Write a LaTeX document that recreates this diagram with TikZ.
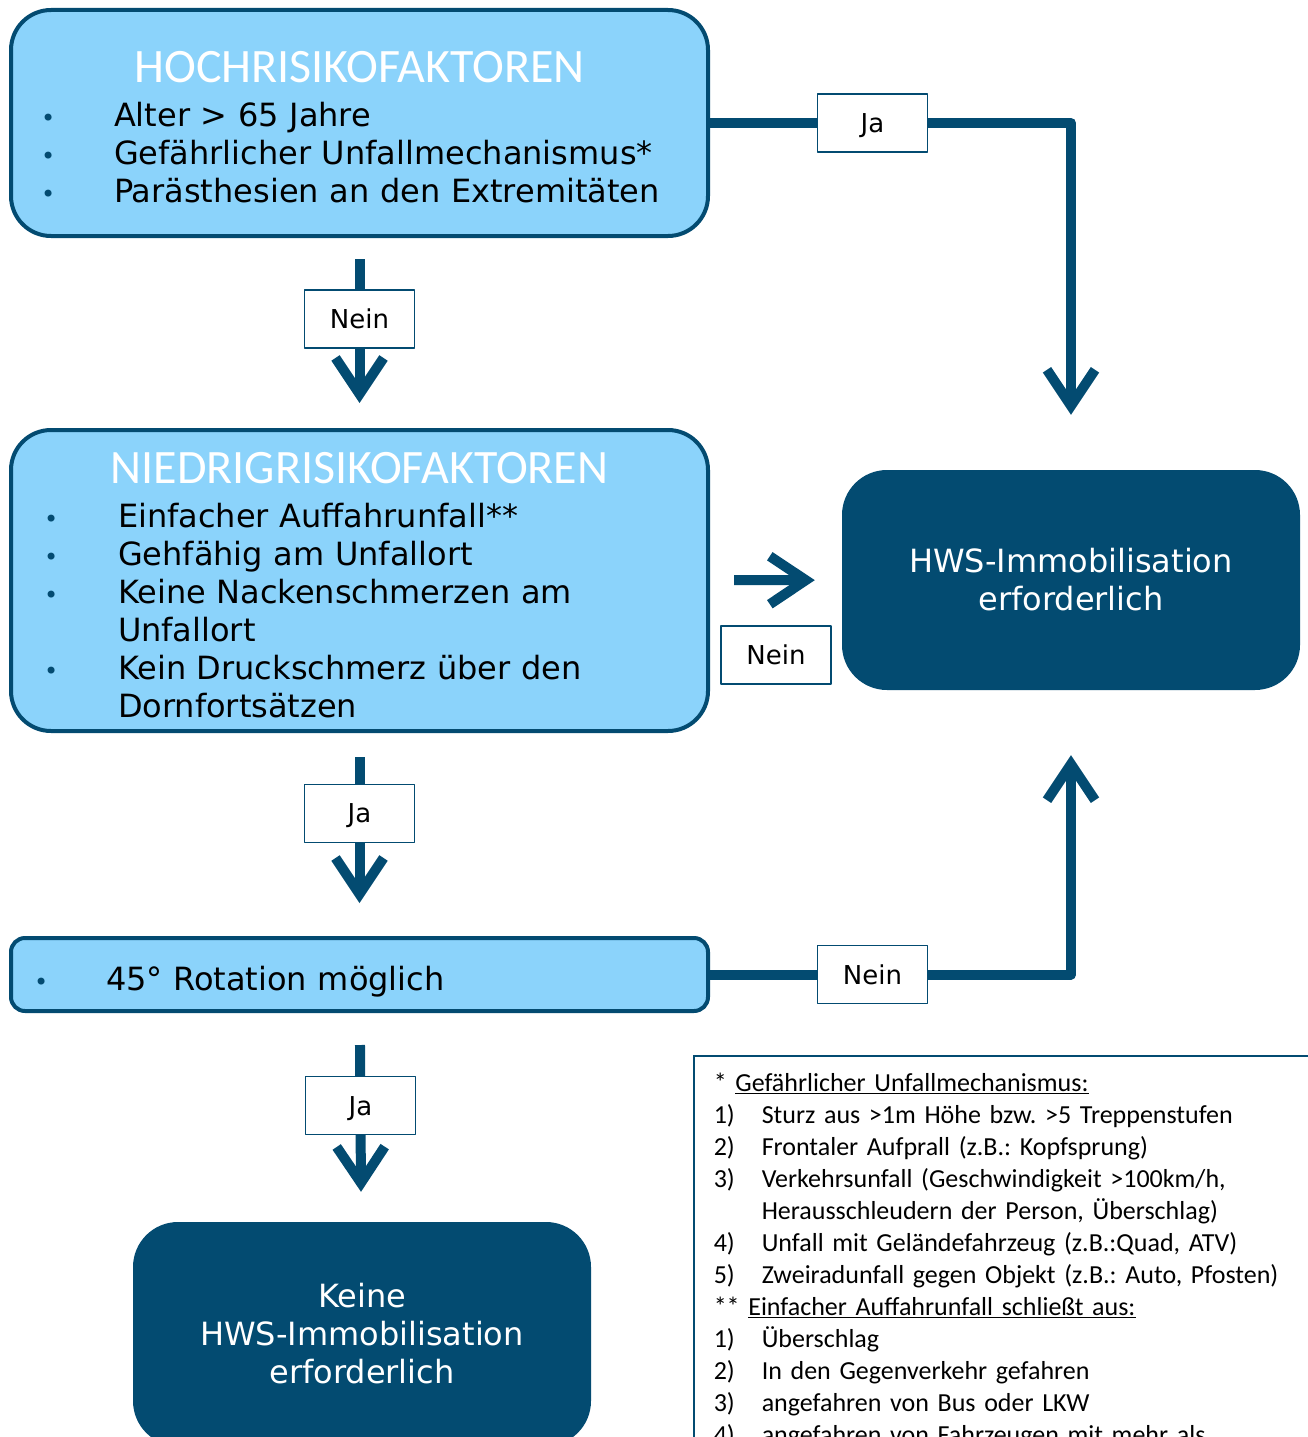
\documentclass[tikz,border=0pt]{standalone}
\usepackage{fontspec}
\setmainfont{DejaVu Sans}
\newfontfamily\headfont{Carlito}
\usetikzlibrary{positioning}
\usetikzlibrary{arrows.meta}
\frenchspacing

\definecolor{darkblue}{RGB}{3,75,113}
\definecolor{lightblue}{RGB}{139,211,251}

% bullet line inside the blue boxes, and its continuation
\newcommand{\bitem}[2][73pt]{\par\noindent\makebox[#1][l]{\textcolor{darkblue}{\fontsize{24}{24}\selectfont\textbullet}}#2}
\newcommand{\bcont}[2][74pt]{\par\noindent\hspace*{#1}#2}
% numbered line in the footnote box
\newcommand{\nitem}[2]{\makebox[48pt][l]{#1}#2}
\newcommand{\boxtitle}[1]{{\centering\headfont\fontsize{48}{50}\selectfont\color{white}\rule{0pt}{40pt}#1\par}\vspace{6pt}}

\tikzset{
  riskbox/.style={draw=darkblue, line width=4pt, fill=lightblue, rounded corners=40pt,
    minimum width=697pt, inner xsep=30pt, text width=637pt, align=left,
    font=\fontsize{32}{38}\selectfont},
  resultbox/.style={fill=darkblue, rounded corners=45pt, text=white, align=center,
    minimum width=458pt, font=\fontsize{32}{38}\selectfont},
  answer/.style={draw=darkblue, line width=1.5pt, fill=white, minimum width=110pt,
    minimum height=58pt, text height=19pt, text depth=0pt, font=\fontsize{26}{30}\selectfont},
  flow/.style={draw=darkblue, line width=10pt, line join=round,
    -{Straight Barb[length=36pt, width=48pt]}},
  notebox/.style={draw=darkblue, line width=1.5pt, inner xsep=20pt, inner ysep=17pt,
    text width=640pt, align=left, font=\headfont\fontsize{26}{32}\selectfont}
}

\begin{document}
\begin{tikzpicture}[x=1pt, y=-1pt]
	\useasboundingbox (0,0) rectangle (1308,1437);

	\node[riskbox, minimum height=226pt] (hoch) at (359.5,123) {%
		\boxtitle{HOCHRISIKOFAKTOREN}
		\bitem{Alter > 65 Jahre}
		\bitem{Gefährlicher Unfallmechanismus*}
		\bitem{Parästhesien an den Extremitäten}};
	\node[riskbox, minimum height=301pt, inner xsep=33pt, text width=631pt] (niedrig) at (359.5,580.5) {%
		\boxtitle{NIEDRIGRISIKOFAKTOREN}
		\bitem[74pt]{Einfacher Auffahrunfall**}
		\bitem[74pt]{Gehfähig am Unfallort}
		\bitem[74pt]{Keine Nackenschmerzen am}
		\bcont{Unfallort}
		\bitem[74pt]{Kein Druckschmerz über den}
		\bcont{Dornfortsätzen}};
	\node[riskbox, minimum height=73pt, rounded corners=14pt, inner xsep=23pt, text width=651pt] (rot) at (359.5,974.5) {%
		\bitem[72pt]{45° Rotation möglich}};

	\node[resultbox, minimum height=220pt] (hws) at (1071,580) {HWS-Immobilisation\\erforderlich};
	\node[resultbox, minimum height=224pt] (keine) at (362,1334) {Keine\\HWS-Immobilisation\\erforderlich};

	\draw[flow, shorten >=55pt] (hoch.east) -| node[answer, pos=0.225] (ja1) {Ja} (hws);
	\draw[flow, shorten <=21pt, shorten >=25pt] (hoch) -- node[answer, pos=0.425] (nein1) {Nein} (niedrig);
	\draw[flow, shorten <=24pt, shorten >=27pt] (niedrig) -- node[answer, midway, below=45pt] (nein2) {Nein} (hws);
	\draw[flow, shorten <=24pt, shorten >=33pt] (niedrig) -- node[answer, pos=0.396] (ja2) {Ja} (rot);
	\draw[flow, shorten >=65pt] (rot.east) -| node[answer, pos=0.225] (nein3) {Nein} (hws);
	\draw[flow, shorten <=32pt, shorten >=30pt] (rot) -- node[answer, pos=0.443] (ja3) {Ja} (keine);

	\node[notebox, anchor=north west] (note) at (693,1055) {%
		* \underline{Gefährlicher Unfallmechanismus:}\\
		\nitem{1)}{Sturz aus >1m Höhe bzw. >5 Treppenstufen}\\
		\nitem{2)}{Frontaler Aufprall (z.B.: Kopfsprung)}\\
		\nitem{3)}{Verkehrsunfall (Geschwindigkeit >100km/h,}\\
		\nitem{}{Herausschleudern der Person, Überschlag)}\\
		\nitem{4)}{Unfall mit Geländefahrzeug (z.B.:Quad, ATV)}\\
		\nitem{5)}{Zweiradunfall gegen Objekt (z.B.: Auto, Pfosten)}\\
		{}** \underline{Einfacher Auffahrunfall schließt aus:}\\
		\nitem{1)}{Überschlag}\\
		\nitem{2)}{In den Gegenverkehr gefahren}\\
		\nitem{3)}{angefahren von Bus oder LKW}\\
		\nitem{4)}{angefahren von Fahrzeugen mit mehr als}};
\end{tikzpicture}
\end{document}
